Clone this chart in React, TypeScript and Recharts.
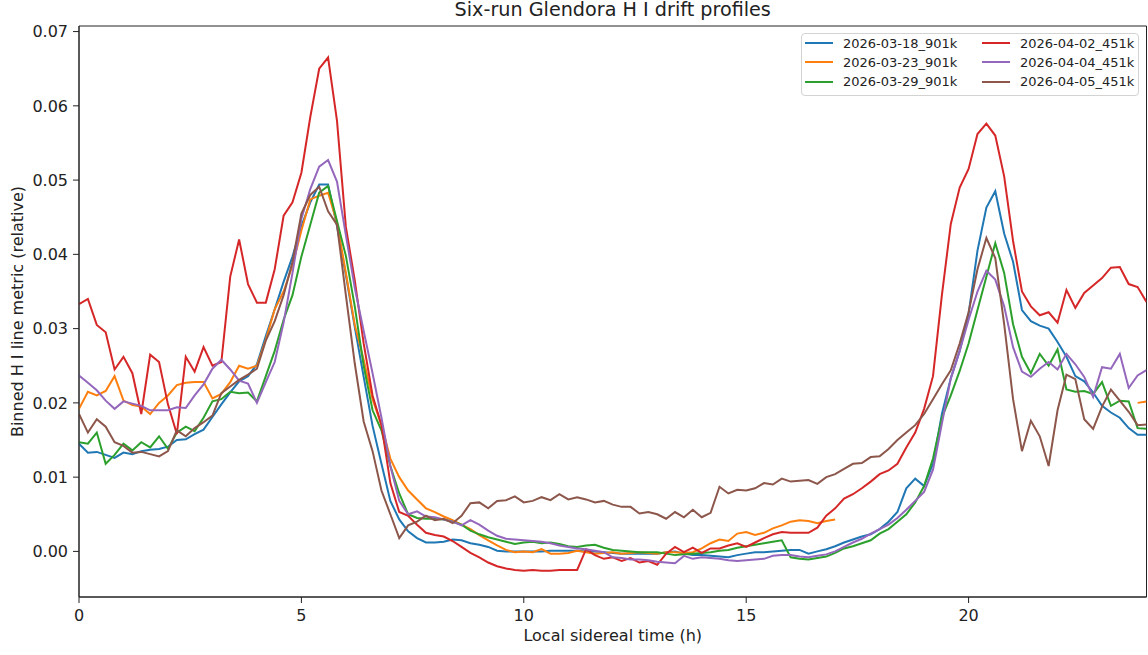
import React from 'react';
import { LineChart, Line, XAxis, YAxis, Label, Legend, ReferenceArea } from 'recharts';

const FONT = '"DejaVu Sans", sans-serif';

// Local sidereal time grid (h), every 0.2 h
const hours: number[] = Array.from({ length: 121 }, (_, i) => Math.round(i * 2) / 10);

const seriesNames = [
  '2026-03-18_901k',
  '2026-03-23_901k',
  '2026-03-29_901k',
  '2026-04-02_451k',
  '2026-04-04_451k',
  '2026-04-05_451k',
];
const seriesColors = ['#1f77b4', '#ff7f0e', '#2ca02c', '#d62728', '#9467bd', '#8c564b'];

const run0318: (number | null)[] = [
  0.0145, 0.0133, 0.0134, 0.0130, 0.0126, 0.0133, 0.0131, 0.0135, 0.0137, 0.0138,
  0.0141, 0.0150, 0.0151, 0.0158, 0.0164, 0.0181, 0.0198, 0.0214, 0.0229, 0.0236,
  0.0252, 0.0290, 0.0326, 0.0363, 0.0397, 0.0438, 0.0470, 0.0494, 0.0494, 0.0438,
  0.0372, 0.0302, 0.0235, 0.0169, 0.0118, 0.0068, 0.0043, 0.0027, 0.0018, 0.0012,
  0.0012, 0.0013, 0.0016, 0.0015, 0.0011, 0.0009, 0.0006, 0.0001, 0.0000, 0.0000,
  0.0000, 0.0000, 0.0000, 0.0001, 0.0001, 0.0001, 0.0001, 0.0000, 0.0000, -0.0001,
  -0.0002, -0.0003, -0.0003, -0.0003, -0.0003, -0.0003, -0.0001, 0.0000, -0.0003, -0.0005,
  -0.0005, -0.0006, -0.0007, -0.0008, -0.0005, -0.0003, -0.0001, -0.0001, 0.0000, 0.0001,
  0.0002, 0.0002, -0.0003, 0.0000, 0.0003, 0.0007, 0.0012, 0.0016, 0.0020, 0.0023,
  0.0030, 0.0040, 0.0053, 0.0085, 0.0098, 0.0088, 0.0118, 0.0185, 0.0233, 0.0270,
  0.0320, 0.0405, 0.0463, 0.0485, 0.0428, 0.0390, 0.0325, 0.0310, 0.0304, 0.0300,
  0.0282, 0.0262, 0.0236, 0.0229, 0.0214, 0.0196, 0.0187, 0.0180, 0.0166, 0.0157,
  0.0157,
];

const run0323: (number | null)[] = [
  0.0192, 0.0215, 0.0210, 0.0216, 0.0236, 0.0203, 0.0197, 0.0195, 0.0185, 0.0200,
  0.0210, 0.0224, 0.0227, 0.0228, 0.0228, 0.0206, 0.0212, 0.0228, 0.0250, 0.0246,
  0.0250, 0.0285, 0.0326, 0.0350, 0.0385, 0.0432, 0.0474, 0.0479, 0.0483, 0.0443,
  0.0375, 0.0305, 0.0258, 0.0205, 0.0170, 0.0125, 0.0100, 0.0082, 0.0070, 0.0058,
  0.0053, 0.0047, 0.0042, 0.0036, 0.0030, 0.0022, 0.0015, 0.0008, 0.0002, -0.0001,
  0.0000, -0.0001, 0.0003, -0.0003, -0.0003, -0.0002, 0.0001, -0.0001, -0.0003, -0.0002,
  -0.0001, -0.0003, -0.0002, -0.0001, -0.0002, -0.0003, -0.0001, -0.0001, -0.0002, -0.0001,
  0.0004, 0.0011, 0.0016, 0.0014, 0.0024, 0.0026, 0.0022, 0.0025, 0.0031, 0.0035,
  0.0040, 0.0042, 0.0041, 0.0038, 0.0041, 0.0043, null, null, null, null,
  null, null, null, null, null, null, null, null, null, null,
  null, null, null, null, null, null, null, null, null, null,
  null, null, null, null, null, null, null, null, null, 0.0200,
  0.0202,
];

const run0329: (number | null)[] = [
  0.0147, 0.0145, 0.0160, 0.0118, 0.0130, 0.0145, 0.0136, 0.0147, 0.0140, 0.0155,
  0.0138, 0.0160, 0.0168, 0.0162, 0.0180, 0.0202, 0.0205, 0.0215, 0.0213, 0.0214,
  0.0202, 0.0236, 0.0270, 0.0312, 0.0345, 0.0397, 0.0440, 0.0483, 0.0492, 0.0445,
  0.0398, 0.0330, 0.0250, 0.0190, 0.0163, 0.0115, 0.0078, 0.0050, 0.0045, 0.0044,
  0.0044, 0.0043, 0.0040, 0.0036, 0.0028, 0.0023, 0.0019, 0.0016, 0.0013, 0.0010,
  0.0012, 0.0013, 0.0011, 0.0012, 0.0010, 0.0007, 0.0006, 0.0008, 0.0009, 0.0005,
  0.0002, 0.0001, 0.0000, -0.0001, -0.0001, -0.0001, -0.0003, -0.0005, -0.0004, -0.0003,
  -0.0002, -0.0001, 0.0001, 0.0002, 0.0005, 0.0007, 0.0009, 0.0011, 0.0013, 0.0015,
  -0.0008, -0.0010, -0.0011, -0.0009, -0.0007, -0.0002, 0.0004, 0.0007, 0.0011, 0.0015,
  0.0024, 0.0030, 0.0040, 0.0050, 0.0066, 0.0088, 0.0125, 0.0180, 0.0210, 0.0243,
  0.0280, 0.0325, 0.0370, 0.0415, 0.0375, 0.0306, 0.0262, 0.0240, 0.0266, 0.0250,
  0.0272, 0.0218, 0.0215, 0.0216, 0.0212, 0.0228, 0.0196, 0.0203, 0.0202, 0.0166,
  0.0165,
];

const run0402: (number | null)[] = [
  0.0333, 0.0340, 0.0305, 0.0295, 0.0245, 0.0262, 0.0240, 0.0185, 0.0265, 0.0255,
  0.0198, 0.0158, 0.0262, 0.0242, 0.0275, 0.0250, 0.0255, 0.0370, 0.0420, 0.0360,
  0.0335, 0.0335, 0.0380, 0.0452, 0.0470, 0.0510, 0.0585, 0.0650, 0.0665, 0.0580,
  0.0437, 0.0365, 0.0280, 0.0210, 0.0170, 0.0092, 0.0053, 0.0048, 0.0036, 0.0025,
  0.0022, 0.0020, 0.0014, 0.0006, -0.0002, -0.0008, -0.0015, -0.0020, -0.0023, -0.0025,
  -0.0026, -0.0025, -0.0026, -0.0026, -0.0025, -0.0025, -0.0025, 0.0003, -0.0005, -0.0010,
  -0.0008, -0.0013, -0.0009, -0.0015, -0.0013, -0.0018, -0.0003, 0.0006, -0.0001, 0.0005,
  -0.0002, 0.0004, 0.0004, 0.0008, 0.0011, 0.0006, 0.0012, 0.0018, 0.0023, 0.0026,
  0.0025, 0.0025, 0.0025, 0.0032, 0.0048, 0.0058, 0.0071, 0.0077, 0.0085, 0.0094,
  0.0104, 0.0109, 0.0118, 0.0140, 0.0160, 0.0192, 0.0236, 0.0345, 0.0441, 0.0490,
  0.0515, 0.0562, 0.0576, 0.0560, 0.0505, 0.0418, 0.0350, 0.0330, 0.0318, 0.0322,
  0.0308, 0.0352, 0.0328, 0.0348, 0.0358, 0.0368, 0.0382, 0.0383, 0.0360, 0.0356,
  0.0336,
];

const run0404: (number | null)[] = [
  0.0237, 0.0227, 0.0217, 0.0203, 0.0192, 0.0202, 0.0199, 0.0196, 0.0190, 0.0190,
  0.0190, 0.0194, 0.0193, 0.0210, 0.0225, 0.0246, 0.0258, 0.0245, 0.0230, 0.0226,
  0.0200, 0.0228, 0.0255, 0.0308, 0.0375, 0.0448, 0.0488, 0.0518, 0.0527, 0.0498,
  0.0426, 0.0355, 0.0297, 0.0240, 0.0180, 0.0115, 0.0068, 0.0050, 0.0054, 0.0047,
  0.0046, 0.0043, 0.0040, 0.0035, 0.0042, 0.0036, 0.0028, 0.0021, 0.0017, 0.0016,
  0.0015, 0.0014, 0.0013, 0.0011, 0.0008, 0.0006, 0.0004, 0.0003, 0.0001, -0.0001,
  -0.0008, -0.0009, -0.0011, -0.0011, -0.0012, -0.0014, -0.0015, -0.0016, -0.0006, -0.0010,
  -0.0008, -0.0009, -0.0010, -0.0012, -0.0013, -0.0012, -0.0011, -0.0010, -0.0006, -0.0005,
  -0.0005, -0.0007, -0.0008, -0.0006, -0.0004, 0.0000, 0.0006, 0.0012, 0.0017, 0.0024,
  0.0030, 0.0036, 0.0045, 0.0056, 0.0068, 0.0080, 0.0110, 0.0172, 0.0233, 0.0270,
  0.0312, 0.0350, 0.0378, 0.0366, 0.0330, 0.0275, 0.0242, 0.0235, 0.0246, 0.0255,
  0.0245, 0.0266, 0.0252, 0.0235, 0.0208, 0.0248, 0.0246, 0.0266, 0.0220, 0.0237,
  0.0244,
];

const run0405: (number | null)[] = [
  0.0185, 0.0160, 0.0178, 0.0168, 0.0147, 0.0142, 0.0133, 0.0134, 0.0131, 0.0128,
  0.0135, 0.0163, 0.0155, 0.0166, 0.0174, 0.0183, 0.0213, 0.0222, 0.0231, 0.0238,
  0.0246, 0.0284, 0.0310, 0.0345, 0.0390, 0.0455, 0.0480, 0.0491, 0.0458, 0.0440,
  0.0345, 0.0253, 0.0175, 0.0135, 0.0082, 0.0050, 0.0018, 0.0035, 0.0040, 0.0048,
  0.0042, 0.0044, 0.0038, 0.0048, 0.0065, 0.0066, 0.0058, 0.0068, 0.0069, 0.0074,
  0.0066, 0.0068, 0.0073, 0.0069, 0.0077, 0.0070, 0.0073, 0.0070, 0.0066, 0.0068,
  0.0063, 0.0060, 0.0060, 0.0051, 0.0053, 0.0050, 0.0044, 0.0053, 0.0046, 0.0056,
  0.0046, 0.0052, 0.0087, 0.0078, 0.0083, 0.0082, 0.0085, 0.0092, 0.0090, 0.0098,
  0.0094, 0.0095, 0.0096, 0.0091, 0.0100, 0.0104, 0.0111, 0.0118, 0.0119, 0.0127,
  0.0128, 0.0138, 0.0150, 0.0160, 0.0170, 0.0185, 0.0205, 0.0225, 0.0244, 0.0280,
  0.0322, 0.0380, 0.0422, 0.0395, 0.0306, 0.0205, 0.0135, 0.0176, 0.0155, 0.0115,
  0.0190, 0.0238, 0.0232, 0.0178, 0.0165, 0.0195, 0.0218, 0.0203, 0.0188, 0.0170,
  0.0171,
];

const seriesValues = [run0318, run0323, run0329, run0402, run0404, run0405];

const xTicks = [0, 5, 10, 15, 20];
const yTicks = [0, 0.01, 0.02, 0.03, 0.04, 0.05, 0.06, 0.07];
const X_DOMAIN: [number, number] = [0, 24];
const Y_DOMAIN: [number, number] = [-0.00614, 0.07075];

const rows = hours.map((h, i) => {
  const r: Record<string, number | null> = { h };
  seriesValues.forEach((vals, k) => {
    r['s' + k] = vals[i] ?? null;
  });
  return r;
});

const renderLegend = (props: any) => {
  const items = props.payload || [];
  return (
    <div
      style={{
        boxSizing: 'border-box',
        width: 338,
        height: 63,
        border: '1px solid #d3d3d3',
        borderRadius: 4,
        background: 'rgba(255,255,255,0.8)',
        display: 'grid',
        gridTemplateColumns: '177px 1fr',
        gridTemplateRows: 'repeat(3, 19.3px)',
        gridAutoFlow: 'column',
        paddingLeft: 3,
        fontFamily: FONT,
        fontSize: 13,
        color: '#222',
      }}
    >
      {items.map((it: any, i: number) => (
        <div key={i} style={{ display: 'flex', alignItems: 'center', whiteSpace: 'nowrap' }}>
          <span style={{ display: 'inline-block', width: 28, height: 2, background: it.color, marginRight: 10 }} />
          <span>{it.value}</span>
        </div>
      ))}
    </div>
  );
};

export default function App() {
  return (
    <div style={{ position: 'absolute', left: 0, top: 0, width: 1148, height: 655, background: '#fff' }}>
      <div
        style={{
          position: 'absolute',
          left: 312.75,
          width: 600,
          top: 0,
          textAlign: 'center',
          fontFamily: FONT,
          fontSize: 19.2,
          lineHeight: 1,
          color: '#222',
          zIndex: 2,
        }}
      >
        Six-run Glendora H I drift profiles
      </div>
      <LineChart width={1148} height={655} data={rows} margin={{ top: 26, right: 1.5, bottom: 0, left: 0 }}>
        <XAxis
          dataKey="h"
          type="number"
          domain={X_DOMAIN}
          ticks={xTicks}
          allowDataOverflow
          height={58}
          tickSize={6}
          tickMargin={7}
          stroke="#222"
          tick={{ fontSize: 16, fill: '#222', fontFamily: FONT }}
        >
          <Label
            value="Local sidereal time (h)"
            position="insideBottom"
            offset={14}
            style={{ fontSize: 16, fill: '#222', fontFamily: FONT }}
          />
        </XAxis>
        <YAxis
          type="number"
          domain={Y_DOMAIN}
          ticks={yTicks}
          allowDataOverflow
          width={79}
          tickSize={6}
          tickMargin={5}
          stroke="#222"
          tickFormatter={(v: number) => v.toFixed(2)}
          tick={{ fontSize: 16, fill: '#222', fontFamily: FONT }}
        >
          <Label
            value="Binned H I line metric (relative)"
            angle={-90}
            position="insideLeft"
            offset={17}
            style={{ fontSize: 16, fill: '#222', fontFamily: FONT, textAnchor: 'middle' }}
          />
        </YAxis>
        <ReferenceArea
          x1={X_DOMAIN[0]}
          x2={X_DOMAIN[1]}
          y1={Y_DOMAIN[0]}
          y2={Y_DOMAIN[1]}
          fill="none"
          stroke="#222"
          strokeWidth={1}
        />
        {seriesNames.map((name, k) => (
          <Line
            key={name}
            type="linear"
            dataKey={'s' + k}
            name={name}
            stroke={seriesColors[k]}
            strokeWidth={2}
            dot={false}
            activeDot={false}
            isAnimationActive={false}
          />
        ))}
        <Legend
          layout="vertical"
          align="center"
          verticalAlign="middle"
          content={renderLegend}
          wrapperStyle={{ position: 'absolute', left: 801, top: 32.5, width: 338, height: 63 }}
        />
      </LineChart>
    </div>
  );
}
